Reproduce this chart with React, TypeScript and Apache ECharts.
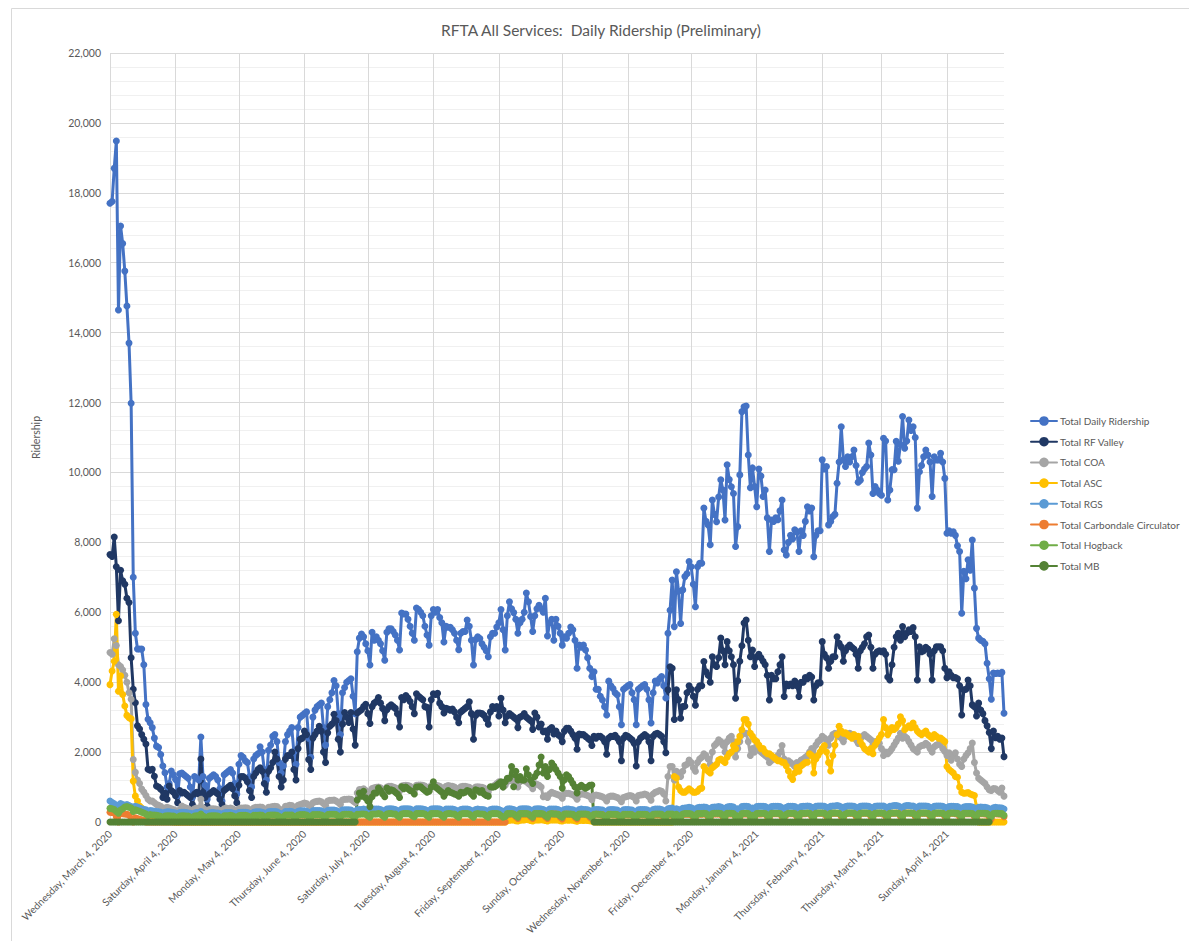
import React, { useEffect, useRef } from "react";
import * as echarts from "echarts";

// ---- Categories: one per day, starting Wednesday, March 4, 2020 ----
const START_UTC = Date.UTC(2020, 2, 4);
const WEEKDAYS = ["Sunday", "Monday", "Tuesday", "Wednesday", "Thursday", "Friday", "Saturday"];
const MONTHS = ["January", "February", "March", "April", "May", "June", "July", "August", "September", "October", "November", "December"];

const TITLE = "RFTA All Services:  Daily Ridership (Preliminary)";
const Y_NAME = "Ridership";
const Y_MAX = 22000;
const Y_STEP = 2000;

// rows: Wed, Thu, Fri, Sat, Sun, Mon, Tue
const TOTAL = [
17700,17750,18700,19480,14650,17050,16550,
15760,14760,13700,11980,7000,5400,4950,
4950,4950,4500,3360,2940,2840,2700,
2400,2170,2130,1930,1600,1410,1000,
1100,1460,1350,1220,760,1380,1400,
1350,1300,1250,1000,700,1300,1250,
1200,2430,1300,1050,650,1250,1300,
1350,1300,1200,950,600,1350,1400,
1450,1500,1400,1100,800,1650,1900,
1850,1750,1700,1300,1000,1800,1900,
1950,2150,2000,1500,1200,2050,2200,
2450,2500,2300,1700,1400,1600,2300,
2500,2600,2700,2000,1650,2700,3000,
3050,3100,3150,2400,1850,3000,3200,
3300,3350,3400,2700,2200,3300,3500,
3700,4050,3900,3100,2500,3700,3850,
4000,4050,4100,3600,3100,4870,5260,
5380,5300,5100,4900,4490,5430,5200,
5300,5200,5100,4900,4630,5430,5530,
5530,5450,5350,5200,4920,5980,5950,
5950,5800,5600,5400,5200,6120,6080,
6000,5900,5600,5350,5060,5900,6080,
6000,6080,5850,5700,5150,5600,5570,
5570,5500,5400,5200,4930,5400,5450,
5450,5780,5600,5200,4490,5220,5300,
5250,5100,5000,4900,4730,5300,5400,
5400,5580,5700,6080,5500,4920,5900,
6300,6100,5990,5800,5400,5700,5800,
6000,6550,6300,5880,5450,5900,6100,
6200,6100,6000,6400,5320,5700,5800,
5200,5800,5600,5400,5060,5300,5260,
5400,5580,5500,5200,4400,5060,5000,
5060,4920,4700,4400,4160,4300,3800,
3800,3600,3490,3300,3060,4030,3900,
3820,3700,3640,3300,2780,3800,3850,
3900,3930,3700,3500,2780,3800,3850,
3900,3930,3800,3500,2830,3700,4030,
3980,4100,4160,3900,3550,5400,6060,
6920,5590,7160,6600,5680,6640,7020,
7100,7450,7300,6800,6160,7300,7400,
7400,8980,8600,8500,7930,9210,8800,
8590,9300,9790,9500,8640,10220,9800,
9590,9400,7880,8450,9930,11740,11880,
11900,10500,9560,10130,9600,9020,10100,
9900,9310,9500,8700,7740,8640,8600,
8700,8650,8900,9210,7780,7640,8000,
8200,8100,8360,8300,7740,8330,8200,
8600,9020,8900,8980,7590,8200,8330,
8330,10360,10100,10170,8500,8600,8740,
8800,9690,10300,11310,10360,10170,10450,
10300,10450,10640,10200,9720,9780,10000,
10100,10170,10840,10500,9400,9600,9500,
9400,9350,10980,10900,9210,9500,10080,
10080,10890,10320,10800,11600,10690,10900,
11500,11200,11310,11000,8980,10020,10200,
10450,10640,10500,10300,9310,10450,10360,
10360,10550,10300,9830,8260,8330,8260,
8300,8200,7900,7740,5970,7170,6960,
7500,7200,8070,6690,5540,5260,5200,
5170,5100,4540,4100,3510,4260,4250,
4260,4250,4280,3110,
];

const RF_VALLEY = [
7650,7600,8150,7300,5760,7200,6900,
6800,6400,6280,4700,3800,3410,2750,
2660,2500,2370,2230,1510,1480,1510,
1310,1030,1000,940,700,830,650,
1030,900,850,750,550,900,830,
850,800,750,700,500,800,850,
800,1800,850,700,450,800,850,
900,850,800,650,500,900,950,
1000,1050,950,750,550,1050,1300,
1300,1250,1150,900,700,1300,1400,
1500,1550,1450,1100,850,1450,1550,
1700,2000,1800,1300,1000,1200,1800,
1900,1900,2000,1500,1200,2100,2370,
2400,2600,2500,1790,1500,2400,2500,
2600,2740,2600,2000,1700,2550,2740,
2800,3080,2900,2370,2000,2800,3130,
3000,2850,3130,2660,2200,3120,3170,
3210,3300,3370,3100,2820,3300,3400,
3450,3560,3400,3250,2900,3210,3300,
3350,3300,3250,3100,2720,3560,3500,
3620,3550,3450,3300,3100,3670,3600,
3550,3500,3300,3280,2720,3500,3670,
3650,3680,3400,3300,3120,3250,3230,
3200,3230,3150,3000,2840,3150,3200,
3250,3300,3440,3100,2370,3050,3120,
3120,3100,3050,2950,2800,3150,3300,
3250,3300,3030,3540,3200,2840,3030,
3100,3050,3000,2950,2700,3000,3030,
3100,3000,2950,2900,2650,3120,3000,
2720,2800,2580,2600,2370,2650,2700,
2520,2600,2500,2450,2300,2600,2680,
2680,2600,2500,2400,2080,2520,2500,
2500,2450,2400,2350,2190,2450,2400,
2450,2450,2400,2300,1940,2400,2450,
2450,2480,2400,2300,1750,2400,2480,
2450,2400,2350,2250,1600,2300,2400,
2450,2500,2450,2300,1750,2450,2520,
2540,2500,2450,2300,1980,3780,4440,
4400,2930,3780,3500,2970,3300,3310,
3700,3900,3800,3600,3340,3800,3900,
3900,4590,4300,4200,4000,4730,4500,
4450,4700,5260,4900,4500,5160,4900,
4730,4500,3540,4040,4600,5040,5690,
5780,5200,4730,4920,4450,4730,4800,
4700,4600,4500,4200,3490,4200,4100,
4100,4300,4500,4730,3590,3950,3900,
3950,3900,4030,3900,3590,4000,4000,
4130,4100,4200,4150,3490,3900,3980,
3980,5160,4800,4700,4400,4600,4730,
4730,5300,5110,5010,4600,4900,5000,
5060,5000,4950,4800,4400,4900,5000,
5100,5300,5350,5000,4400,4800,4870,
4900,4870,4900,4800,4150,4060,4500,
5000,5300,5400,5200,5590,5300,5400,
5500,5450,5560,5300,4060,5010,4870,
4900,5000,4950,4800,4060,4900,5010,
5010,5010,4900,4400,4130,4300,4200,
4130,4130,4100,3900,3060,3780,3800,
4060,3900,3350,3300,3030,3400,3200,
3100,2900,2750,2560,2100,2600,2410,
2450,2370,2400,1870,
];

const COA = [
4850,4800,5240,5050,4500,4450,4350,
4200,4000,3700,3510,1790,1420,1200,
1100,940,860,760,650,600,600,
550,500,480,450,380,400,420,
400,380,360,330,300,350,460,
420,400,380,340,300,380,400,
380,650,400,350,280,360,380,
380,370,360,320,280,380,400,
380,400,380,340,290,380,400,
400,410,400,350,300,400,420,
420,430,420,360,310,420,430,
440,450,440,380,330,360,450,
460,480,470,420,360,480,500,
520,540,530,480,420,550,580,
590,600,580,530,470,600,620,
620,630,600,560,500,630,650,
650,660,650,600,560,830,930,
930,950,900,850,780,960,980,
990,1000,980,920,850,1000,1020,
1020,1000,980,950,880,1030,1040,
1050,1040,1020,980,900,1050,1060,
1060,1050,1030,980,900,1040,1060,
1050,1040,1020,970,880,1020,1040,
1030,1020,1000,960,880,1010,1020,
1020,1010,990,950,870,1000,1010,
1000,990,970,930,860,990,1000,
1050,1100,1150,1120,1000,1050,1150,
1200,1180,1150,1100,1000,1150,1200,
1180,1150,1100,1050,950,1100,1080,
1050,1000,720,750,700,800,850,
820,800,780,750,680,800,820,
820,800,780,740,650,780,800,
800,780,760,720,640,760,770,
760,740,720,680,600,720,740,
740,720,700,660,580,700,720,
740,760,740,700,600,760,770,
780,800,780,720,620,800,850,
870,900,880,800,600,1300,1590,
1590,1200,1450,1400,1300,1450,1620,
1650,1770,1700,1550,1450,1700,1800,
1850,1950,1900,1800,1650,2000,2190,
2250,2350,2300,2200,2000,2300,2400,
2450,2300,1860,2100,2300,2500,2540,
2540,2300,1900,2100,2000,2190,2100,
2000,1950,1900,1850,1700,1760,1800,
1850,1900,2000,2190,1800,1700,1750,
1700,1650,1590,1700,1600,1770,1800,
1850,1900,2000,2100,1900,2200,2300,
2350,2450,2400,2350,2200,2400,2500,
2540,2500,2450,2400,2300,2450,2500,
2540,2500,2450,2350,2250,2400,2450,
2500,2450,2400,2350,2200,2300,2300,
2250,2100,1900,2000,1950,2020,2100,
2200,2300,2400,2540,2400,2450,2400,
2300,2200,2100,2050,2000,2150,2190,
2200,2250,2200,2100,2000,2150,2200,
2220,2250,2100,2020,1900,1980,1770,
1900,1980,1800,1650,1590,1800,1900,
1980,2100,2260,1700,1400,1250,1200,
1150,1100,1000,920,900,960,950,
900,850,970,740,
];

const ASC = [
3930,4320,4600,5940,3740,4180,3650,
3320,3050,2980,2950,1170,740,600,
460,400,350,300,250,200,180,
150,120,100,80,60,50,40,
30,20,10,0,0,0,0,
0,0,0,0,0,0,0,
0,0,0,0,0,0,0,
0,0,0,0,0,0,0,
0,0,0,0,0,0,0,
0,0,0,0,0,0,0,
0,0,0,0,0,0,0,
0,0,0,0,0,0,0,
0,0,0,0,0,0,0,
0,0,0,0,0,0,0,
0,0,0,0,0,0,0,
0,0,0,0,0,0,0,
0,0,0,0,0,0,0,
0,0,0,0,0,0,0,
0,0,0,0,0,0,0,
0,0,0,0,0,0,0,
0,0,0,0,0,0,0,
0,0,0,0,0,0,0,
0,0,0,0,0,0,0,
0,0,0,0,0,0,0,
0,0,0,0,0,0,0,
0,0,0,0,0,0,0,
0,0,0,0,0,0,40,
50,60,55,40,30,50,60,
60,70,65,45,30,55,60,
60,65,60,45,30,55,60,
55,60,55,40,30,50,55,
50,55,50,40,25,45,50,
45,50,45,35,30,0,0,
0,0,0,0,0,0,0,
0,0,0,0,0,0,0,
0,0,0,0,0,0,0,
0,0,0,0,0,0,0,
0,0,0,0,0,0,0,
0,1300,1260,1000,900,850,850,
900,950,900,850,850,880,950,
970,1590,1500,1450,1400,1550,1600,
1650,1770,1800,1750,1700,1850,1950,
2000,2190,2100,2300,2450,2640,2930,
2930,2800,2540,2450,2350,2300,2200,
2100,2100,2000,1950,1950,1900,1850,
1800,1750,1750,1710,1700,1600,1460,
1300,1220,1400,1560,1450,1600,1650,
1700,1710,1950,1900,1400,1800,1900,
2000,2100,2190,2000,1700,1460,1900,
2200,2500,2740,2600,2540,2550,2500,
2450,2400,2500,2450,2450,2300,2200,
2100,2050,2000,2100,1950,2200,2300,
2400,2500,2930,2700,2500,2600,2700,
2650,2700,2800,3010,2900,2640,2700,
2750,2700,2830,2700,2600,2540,2500,
2550,2600,2500,2450,2400,2500,2450,
2400,2400,2350,2300,1590,1500,1450,
1400,1300,1280,1000,850,820,830,
840,800,780,760,430,0,0,
0,0,0,0,0,0,0,
0,0,0,0,
];

const RGS = [
600,560,520,470,480,530,500,
480,500,470,440,420,450,430,
400,380,360,350,300,330,320,
310,300,290,280,240,280,290,
290,280,270,260,220,270,280,
280,270,260,250,210,260,270,
270,300,260,250,210,260,270,
270,260,260,240,200,260,270,
270,270,260,240,210,270,280,
280,280,270,250,220,280,290,
290,290,280,260,230,290,300,
300,300,290,260,230,250,300,
300,310,300,270,240,310,320,
320,320,310,280,250,320,330,
330,330,320,290,260,330,340,
340,340,330,300,270,340,350,
350,350,340,310,280,350,360,
360,370,350,320,290,360,370,
370,370,360,330,300,370,380,
380,370,360,330,300,370,380,
380,380,370,340,300,380,380,
380,370,360,330,290,370,380,
380,380,370,340,300,370,370,
370,370,360,330,290,360,370,
370,370,360,330,290,360,370,
360,360,350,320,290,360,370,
370,370,360,330,300,320,370,
380,370,360,330,300,370,380,
380,380,370,340,300,370,380,
380,370,360,330,290,370,370,
370,370,360,330,290,360,370,
370,360,350,320,280,360,370,
360,360,350,320,280,350,360,
360,350,340,310,280,350,360,
360,350,340,310,270,350,360,
360,350,340,310,270,350,360,
360,360,350,320,280,360,370,
370,370,360,330,290,380,390,
400,330,380,360,320,390,400,
410,420,410,380,340,410,420,
420,430,420,390,350,420,430,
430,440,430,400,360,430,440,
440,430,330,380,370,440,450,
450,440,350,400,380,440,450,
450,450,440,410,370,440,450,
450,450,440,410,370,420,450,
450,450,440,410,370,440,450,
450,460,450,420,380,450,460,
460,460,450,420,380,450,460,
460,470,460,430,390,440,460,
460,460,450,420,380,450,460,
460,460,450,420,380,450,460,
460,460,460,430,380,450,460,
470,470,460,430,390,460,470,
470,460,460,430,380,460,460,
460,460,450,420,380,450,460,
460,460,450,420,370,440,450,
450,440,440,410,360,430,440,
440,440,430,400,350,420,430,
420,420,410,380,330,410,420,
410,410,400,370,
];

const CARBONDALE = [
280,270,260,150,0,250,240,
230,220,200,100,0,120,100,
80,60,50,0,0,0,0,
0,0,0,0,0,0,0,
0,0,0,0,0,0,0,
0,0,0,0,0,0,0,
0,0,0,0,0,0,0,
0,0,0,0,0,0,0,
0,0,0,0,0,0,0,
0,0,0,0,0,0,0,
0,0,0,0,0,0,0,
0,0,0,0,0,0,0,
0,0,0,0,0,0,0,
0,0,0,0,0,0,0,
0,0,0,0,0,0,0,
0,0,0,0,0,0,0,
0,0,0,0,0,0,0,
0,0,0,0,0,0,0,
0,0,0,0,0,0,0,
0,0,0,0,0,0,0,
0,0,0,0,0,0,0,
0,0,0,0,0,0,0,
0,0,0,0,0,0,0,
0,0,0,0,0,0,0,
0,0,0,0,0,0,0,
0,0,0,0,0,0,0,
0,0,0,0,0,0,200,
220,230,220,150,100,220,230,
230,230,220,150,100,230,230,
230,220,220,150,100,220,230,
230,230,220,140,90,220,230,
220,220,210,140,90,210,220,
220,220,210,140,90,210,220,
220,210,210,140,90,210,220,
210,210,200,130,90,210,210,
210,210,200,130,80,200,210,
210,210,200,130,80,200,210,
210,210,200,130,80,210,210,
210,70,190,130,80,210,220,
220,220,210,140,90,220,220,
220,230,220,140,90,220,230,
230,230,220,150,90,230,230,
230,220,60,140,90,220,230,
230,220,70,140,90,230,230,
230,240,230,150,100,230,240,
240,240,230,150,100,200,240,
240,240,230,150,100,240,240,
240,250,240,160,100,240,250,
250,250,240,160,100,240,250,
250,250,240,160,100,220,250,
250,250,240,160,100,240,250,
250,250,240,160,100,240,250,
250,250,240,160,100,240,250,
250,260,250,160,100,250,260,
260,250,250,160,100,250,250,
250,250,240,160,100,240,250,
250,250,240,160,90,240,250,
250,240,240,150,90,240,240,
240,240,230,150,90,230,240,
240,230,230,150,90,230,240,
230,230,220,150,
];

const HOGBACK = [
390,380,360,300,250,340,380,
430,440,420,400,300,350,330,
310,280,260,230,180,210,200,
200,190,180,160,130,170,180,
180,170,170,140,110,170,180,
180,170,170,140,110,170,180,
180,230,170,140,110,170,180,
180,180,170,140,110,180,180,
180,190,180,150,120,180,190,
190,190,180,150,120,190,190,
190,200,190,150,120,190,200,
200,200,190,160,120,150,200,
200,200,200,160,130,200,210,
210,210,200,160,130,210,210,
210,210,200,170,130,210,220,
220,220,210,170,140,210,220,
220,220,210,170,140,220,220,
230,230,220,170,140,230,230,
230,240,230,180,140,230,240,
240,230,230,180,140,230,240,
240,240,230,180,150,240,240,
240,240,230,180,140,240,240,
240,240,230,180,140,230,240,
240,230,230,180,140,230,240,
240,240,230,180,140,230,240,
230,230,220,170,140,230,240,
240,240,230,180,140,160,240,
240,240,230,180,140,240,240,
240,240,230,180,140,240,240,
240,240,230,180,140,230,240,
230,230,220,170,140,230,230,
230,230,220,170,130,230,230,
230,230,220,170,130,220,230,
220,220,210,170,130,220,220,
220,220,210,170,130,220,220,
220,220,210,160,130,220,220,
220,220,210,160,130,220,230,
230,230,220,170,130,230,230,
230,150,220,170,130,230,240,
240,240,230,180,140,240,240,
240,250,240,180,140,240,250,
250,250,240,190,150,250,250,
250,240,150,180,150,240,250,
250,240,160,190,150,240,250,
250,250,240,190,150,250,250,
250,250,240,190,150,220,250,
250,250,240,190,150,250,250,
250,260,250,190,150,250,260,
260,260,250,200,150,250,260,
260,260,250,200,160,230,260,
260,260,250,200,160,250,260,
260,260,250,200,160,250,260,
260,260,250,200,160,250,260,
260,260,250,200,160,250,260,
260,260,250,200,160,250,260,
260,260,250,200,160,250,260,
260,260,250,200,150,250,260,
260,250,250,200,150,250,250,
250,250,240,190,150,250,250,
250,250,240,190,150,240,250,
250,240,240,190,
];

const MB = [
0,0,0,0,0,0,0,
0,0,0,0,0,0,0,
0,0,0,0,0,0,0,
0,0,0,0,0,0,0,
0,0,0,0,0,0,0,
0,0,0,0,0,0,0,
0,0,0,0,0,0,0,
0,0,0,0,0,0,0,
0,0,0,0,0,0,0,
0,0,0,0,0,0,0,
0,0,0,0,0,0,0,
0,0,0,0,0,0,0,
0,0,0,0,0,0,0,
0,0,0,0,0,0,0,
0,0,0,0,0,0,0,
0,0,0,0,0,0,0,
0,0,0,0,0,630,830,
740,880,690,600,440,720,830,
830,970,900,800,720,970,880,
920,900,850,800,700,1010,950,
1000,950,900,880,800,1000,1010,
1010,950,900,850,880,1000,1150,
1000,950,900,850,740,830,900,
850,830,800,780,740,850,830,
850,900,880,800,740,920,900,
850,900,800,760,740,1010,1000,
1010,1050,1100,1150,1000,1150,1250,
1250,1590,1010,1450,1200,1300,1200,
1200,1520,1350,1200,1100,1300,1400,
1630,1860,1400,1590,1300,1500,1690,
1600,1500,1400,1300,970,1200,1350,
1300,1200,1100,1000,830,1000,1050,
1000,970,1000,1050,1060,0,0,
0,0,0,0,0,0,0,
0,0,0,0,0,0,0,
0,0,0,0,0,0,0,
0,0,0,0,0,0,0,
0,0,0,0,0,0,0,
0,0,0,0,0,0,0,
0,0,0,0,0,0,0,
0,0,0,0,0,0,0,
0,0,0,0,0,0,0,
0,0,0,0,0,0,0,
0,0,0,0,0,0,0,
0,0,0,0,0,0,0,
0,0,0,0,0,0,0,
0,0,0,0,0,0,0,
0,0,0,0,0,0,0,
0,0,0,0,0,0,0,
0,0,0,0,0,0,0,
0,0,0,0,0,0,0,
0,0,0,0,0,0,0,
0,0,0,0,0,0,0,
0,0,0,0,0,0,0,
0,0,0,0,0,0,0,
0,0,0,0,0,0,0,
0,0,0,0,0,0,0,
0,0,0,0,0,0,0,
0,0,0,0,0,0,0,
0,0,0,0,
];

const SERIES_NAMES = [
  "Total Daily Ridership",
  "Total RF Valley",
  "Total COA",
  "Total ASC",
  "Total RGS",
  "Total Carbondale Circulator",
  "Total Hogback",
  "Total MB",
];
const SERIES_DATA = [TOTAL, RF_VALLEY, COA, ASC, RGS, CARBONDALE, HOGBACK, MB];
const COLORS = ["#4472C4", "#203864", "#A5A5A5", "#FFC000", "#5B9BD5", "#ED7D31", "#70AD47", "#548235"];

const N_DAYS = TOTAL.length;
const DATES = Array.from({ length: N_DAYS }, (_, i) => new Date(START_UTC + i * 86400000));
const CATEGORIES = DATES.map(
  (d) => `${WEEKDAYS[d.getUTCDay()]}, ${MONTHS[d.getUTCMonth()]} ${d.getUTCDate()}, ${d.getUTCFullYear()}`
);
const isMonthTick = (i: number) => !!DATES[i] && DATES[i].getUTCDate() === 4;

const FONT = "Lato, 'Open Sans', sans-serif";
const TEXT = "#595959";
const GRID_C = "#D9D9D9";

export default function App() {
  const ref = useRef<HTMLDivElement>(null);
  useEffect(() => {
    document.documentElement.style.overflow = "hidden";
    const chart = echarts.init(ref.current as HTMLDivElement, null, { renderer: "svg" });
    chart.setOption({
      animation: false,
      backgroundColor: "#ffffff",
      textStyle: { fontFamily: FONT },
      title: {
        text: TITLE,
        left: "center",
        top: 9,
        textStyle: { fontFamily: FONT, fontSize: 15.5, fontWeight: "normal", color: TEXT },
      },
      legend: {
        orient: "vertical",
        left: 1017,
        top: 402,
        itemWidth: 26,
        itemHeight: 12,
        itemGap: 8.7,
        data: SERIES_NAMES,
        textStyle: { fontFamily: FONT, fontSize: 10, color: TEXT, lineHeight: 12, padding: [0, 0, 0, -2] },
      },
      grid: { left: 102, top: 45, right: 190, bottom: 119, containLabel: false },
      graphic: [
        {
          type: "rect",
          silent: true,
          shape: { x: 3.5, y: 0.5, width: 1181, height: 1100 },
          style: { fill: "none", stroke: GRID_C, lineWidth: 1 },
        },
      ],
      xAxis: {
        type: "category",
        boundaryGap: false,
        data: CATEGORIES,
        axisLine: { show: true, lineStyle: { color: GRID_C } },
        axisTick: { show: false },
        axisLabel: {
          interval: (i: number) => isMonthTick(i),
          rotate: 45,
          fontFamily: FONT,
          fontSize: 10.2,
          color: TEXT,
          margin: 10,
        },
        splitLine: {
          show: true,
          interval: (i: number) => isMonthTick(i),
          lineStyle: { color: GRID_C, width: 1 },
        },
      },
      yAxis: {
        type: "value",
        min: 0,
        max: Y_MAX,
        interval: Y_STEP,
        name: Y_NAME,
        nameLocation: "middle",
        nameGap: 69,
        nameTextStyle: { fontFamily: FONT, fontSize: 10.5, color: TEXT },
        axisLine: { show: false },
        axisTick: { show: false },
        axisLabel: {
          fontFamily: FONT,
          fontSize: 10.5,
          color: TEXT,
          margin: 9,
          formatter: (v: number) => v.toLocaleString("en-US"),
        },
        splitLine: { show: true, lineStyle: { color: GRID_C, width: 1 } },
        minorTick: { show: false, splitNumber: 5 },
        minorSplitLine: { show: true, lineStyle: { color: "#F0F0F0", width: 1 } },
      },
      series: SERIES_NAMES.map((name, k) => ({
        name,
        type: "line",
        data: SERIES_DATA[k],
        symbol: "circle",
        symbolSize: 7,
        showAllSymbol: true,
        color: COLORS[k],
        itemStyle: { color: COLORS[k] },
        lineStyle: { color: COLORS[k], width: 3, cap: "round", join: "round" },
        emphasis: { disabled: true },
      })),
    });
    return () => chart.dispose();
  }, []);
  return <div ref={ref} style={{ width: 1186, height: 933 }} />;
}
